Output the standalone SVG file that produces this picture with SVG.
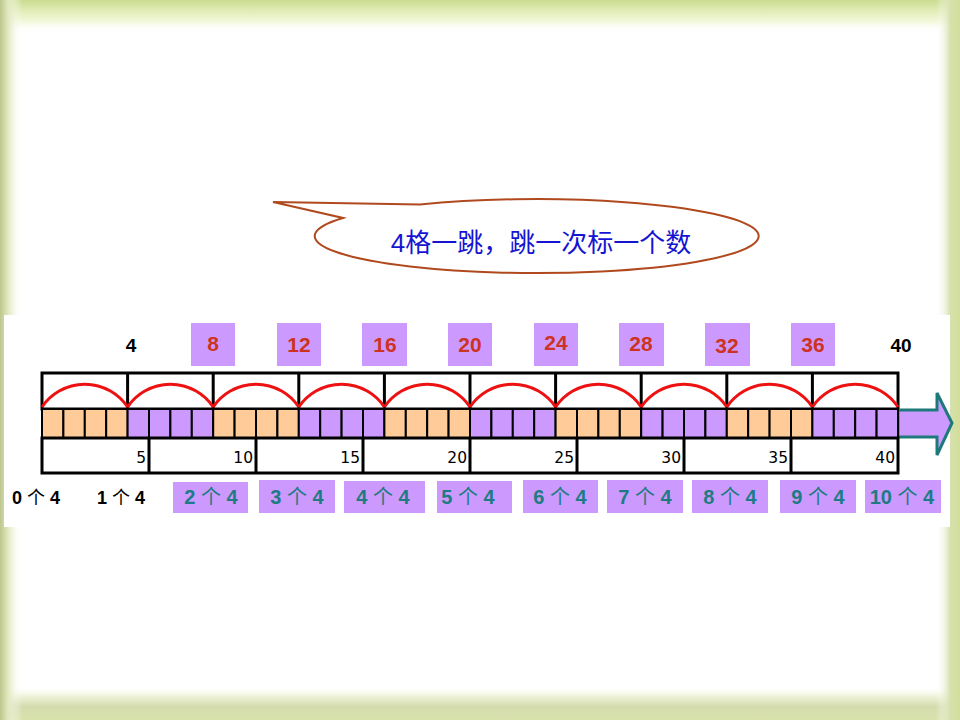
<svg xmlns="http://www.w3.org/2000/svg" width="960" height="720" viewBox="0 0 960 720">
<defs>
<linearGradient id="gTop" x1="0" y1="0" x2="0" y2="1"><stop offset="0" stop-color="#cbdc8e"/><stop offset="0.35" stop-color="#e2ecb8"/><stop offset="0.7" stop-color="#f4f9df"/><stop offset="1" stop-color="#ffffff" stop-opacity="0"/></linearGradient>
<linearGradient id="gBot" x1="0" y1="1" x2="0" y2="0"><stop offset="0" stop-color="#d8e2ac"/><stop offset="0.4" stop-color="#d4dcae"/><stop offset="0.7" stop-color="#eef3d8"/><stop offset="1" stop-color="#ffffff" stop-opacity="0"/></linearGradient>
<linearGradient id="gLeft" x1="0" y1="0" x2="1" y2="0"><stop offset="0" stop-color="#bcc68c"/><stop offset="0.35" stop-color="#dfe7bd"/><stop offset="1" stop-color="#ffffff" stop-opacity="0"/></linearGradient>
<linearGradient id="gRight" x1="1" y1="0" x2="0" y2="0"><stop offset="0" stop-color="#d2de9a"/><stop offset="0.4" stop-color="#d6e0ac"/><stop offset="1" stop-color="#ffffff" stop-opacity="0"/></linearGradient>
</defs>
<style>
.o{fill:#FFCC99;stroke:#000;stroke-width:2}
.p{fill:#CC99FF;stroke:#000;stroke-width:2}
.box{fill:#CC99FF}
.frame{fill:#fff;stroke:#000;stroke-width:3}
.div{stroke:#000;stroke-width:3}
.arc{fill:none;stroke:#EE1111;stroke-width:3}
.top{font-family:"Liberation Sans",Arial,sans-serif;font-weight:bold;font-size:21px;fill:#CC3322;text-anchor:middle}
.topk{font-family:"Liberation Sans",Arial,sans-serif;font-weight:bold;font-size:19px;fill:#000;text-anchor:middle}
.num{font-family:"DejaVu Sans","Liberation Sans",sans-serif;font-size:15.5px;fill:#000;text-anchor:end}
.lab{font-family:"Liberation Sans","Noto Sans CJK SC",sans-serif;font-weight:bold;font-size:20px;fill:#1E7B83;text-anchor:middle}
.labk{font-family:"Liberation Sans","Noto Sans CJK SC",sans-serif;font-weight:bold;font-size:18px;fill:#000;text-anchor:middle}
.cjk{font-weight:normal}
</style>
<rect width="960" height="720" fill="#ffffff"/>
<rect x="0" y="0" width="960" height="32" fill="url(#gTop)"/>
<rect x="0" y="686" width="960" height="34" fill="url(#gBot)"/>
<rect x="0" y="0" width="22" height="720" fill="url(#gLeft)"/>
<rect x="936" y="0" width="24" height="720" fill="url(#gRight)"/>
<rect x="4" y="315" width="946" height="212" fill="#ffffff"/>

<g id="callout">
<path d="M 420 204.6 A 222 37 0 1 1 343 218 L 273 202 Z" fill="#ffffff" stroke="#B04A1E" stroke-width="2"/>
<text x="541" y="252" font-family="Liberation Sans,'Noto Sans CJK SC',sans-serif" font-size="26" fill="#1414D2" text-anchor="middle">4格一跳，跳一次标一个数</text>
</g>

<g id="top-labels">
<text class="topk" x="131" y="352">4</text>
<rect class="box" x="191" y="323" width="44" height="43"/><text class="top" x="213" y="351">8</text>
<rect class="box" x="277" y="323" width="44" height="43"/><text class="top" x="299" y="352">12</text>
<rect class="box" x="362" y="323" width="45" height="43"/><text class="top" x="385" y="352">16</text>
<rect class="box" x="448" y="323" width="44" height="43"/><text class="top" x="470" y="352">20</text>
<rect class="box" x="534" y="323" width="44" height="43"/><text class="top" x="556" y="350">24</text>
<rect class="box" x="619" y="323" width="45" height="43"/><text class="top" x="641" y="351">28</text>
<rect class="box" x="705" y="323" width="45" height="43"/><text class="top" x="727" y="353">32</text>
<rect class="box" x="791" y="323" width="44" height="43"/><text class="top" x="813" y="352">36</text>
<text class="topk" x="901" y="352">40</text>
</g>

<g id="jump-row">
<rect class="frame" x="42" y="373" width="856" height="36"/>
<line class="div" x1="127.6" y1="373" x2="127.6" y2="409"/>
<line class="div" x1="213.2" y1="373" x2="213.2" y2="409"/>
<line class="div" x1="298.8" y1="373" x2="298.8" y2="409"/>
<line class="div" x1="384.4" y1="373" x2="384.4" y2="409"/>
<line class="div" x1="470" y1="373" x2="470" y2="409"/>
<line class="div" x1="555.6" y1="373" x2="555.6" y2="409"/>
<line class="div" x1="641.2" y1="373" x2="641.2" y2="409"/>
<line class="div" x1="726.8" y1="373" x2="726.8" y2="409"/>
<line class="div" x1="812.4" y1="373" x2="812.4" y2="409"/>
</g>

<g id="arcs">
<path class="arc" d="M42 407 A51.6 51.6 0 0 1 127.6 407"/>
<path class="arc" d="M127.6 407 A51.6 51.6 0 0 1 213.2 407"/>
<path class="arc" d="M213.2 407 A51.6 51.6 0 0 1 298.8 407"/>
<path class="arc" d="M298.8 407 A51.6 51.6 0 0 1 384.4 407"/>
<path class="arc" d="M384.4 407 A51.6 51.6 0 0 1 470 407"/>
<path class="arc" d="M470 407 A51.6 51.6 0 0 1 555.6 407"/>
<path class="arc" d="M555.6 407 A51.6 51.6 0 0 1 641.2 407"/>
<path class="arc" d="M641.2 407 A51.6 51.6 0 0 1 726.8 407"/>
<path class="arc" d="M726.8 407 A51.6 51.6 0 0 1 812.4 407"/>
<path class="arc" d="M812.4 407 A51.6 51.6 0 0 1 898 407"/>
</g>

<g id="arrow">
<polygon points="898,410 937,410 937,393 952,423 937,455 937,437 898,437" fill="#CC99FF" stroke="#1E7A7A" stroke-width="3" stroke-linejoin="miter"/>
</g>

<g id="cells">
<rect class="o" x="42" y="409" width="21.4" height="29"/><rect class="o" x="63.4" y="409" width="21.4" height="29"/><rect class="o" x="84.8" y="409" width="21.4" height="29"/><rect class="o" x="106.2" y="409" width="21.4" height="29"/>
<rect class="p" x="127.6" y="409" width="21.4" height="29"/><rect class="p" x="149" y="409" width="21.4" height="29"/><rect class="p" x="170.4" y="409" width="21.4" height="29"/><rect class="p" x="191.8" y="409" width="21.4" height="29"/>
<rect class="o" x="213.2" y="409" width="21.4" height="29"/><rect class="o" x="234.6" y="409" width="21.4" height="29"/><rect class="o" x="256" y="409" width="21.4" height="29"/><rect class="o" x="277.4" y="409" width="21.4" height="29"/>
<rect class="p" x="298.8" y="409" width="21.4" height="29"/><rect class="p" x="320.2" y="409" width="21.4" height="29"/><rect class="p" x="341.6" y="409" width="21.4" height="29"/><rect class="p" x="363" y="409" width="21.4" height="29"/>
<rect class="o" x="384.4" y="409" width="21.4" height="29"/><rect class="o" x="405.8" y="409" width="21.4" height="29"/><rect class="o" x="427.2" y="409" width="21.4" height="29"/><rect class="o" x="448.6" y="409" width="21.4" height="29"/>
<rect class="p" x="470" y="409" width="21.4" height="29"/><rect class="p" x="491.4" y="409" width="21.4" height="29"/><rect class="p" x="512.8" y="409" width="21.4" height="29"/><rect class="p" x="534.2" y="409" width="21.4" height="29"/>
<rect class="o" x="555.6" y="409" width="21.4" height="29"/><rect class="o" x="577" y="409" width="21.4" height="29"/><rect class="o" x="598.4" y="409" width="21.4" height="29"/><rect class="o" x="619.8" y="409" width="21.4" height="29"/>
<rect class="p" x="641.2" y="409" width="21.4" height="29"/><rect class="p" x="662.6" y="409" width="21.4" height="29"/><rect class="p" x="684" y="409" width="21.4" height="29"/><rect class="p" x="705.4" y="409" width="21.4" height="29"/>
<rect class="o" x="726.8" y="409" width="21.4" height="29"/><rect class="o" x="748.2" y="409" width="21.4" height="29"/><rect class="o" x="769.6" y="409" width="21.4" height="29"/><rect class="o" x="791" y="409" width="21.4" height="29"/>
<rect class="p" x="812.4" y="409" width="21.4" height="29"/><rect class="p" x="833.8" y="409" width="21.4" height="29"/><rect class="p" x="855.2" y="409" width="21.4" height="29"/><rect class="p" x="876.6" y="409" width="21.4" height="29"/>
</g>

<g id="ruler">
<rect class="frame" x="42" y="438" width="856" height="35"/>
<line class="div" x1="149" y1="438" x2="149" y2="473"/>
<line class="div" x1="256" y1="438" x2="256" y2="473"/>
<line class="div" x1="363" y1="438" x2="363" y2="473"/>
<line class="div" x1="470" y1="438" x2="470" y2="473"/>
<line class="div" x1="577" y1="438" x2="577" y2="473"/>
<line class="div" x1="684" y1="438" x2="684" y2="473"/>
<line class="div" x1="791" y1="438" x2="791" y2="473"/>
<text class="num" x="146" y="463">5</text>
<text class="num" x="253" y="463">10</text>
<text class="num" x="360" y="463">15</text>
<text class="num" x="467" y="463">20</text>
<text class="num" x="574" y="463">25</text>
<text class="num" x="681" y="463">30</text>
<text class="num" x="788" y="463">35</text>
<text class="num" x="895" y="463">40</text>
</g>

<g id="count-labels">
<text class="labk" x="36" y="504">0 <tspan class="cjk">个</tspan> 4</text>
<text class="labk" x="121" y="504">1 <tspan class="cjk">个</tspan> 4</text>
<rect class="box" x="173" y="482" width="75" height="31"/><text class="lab" x="211" y="504">2 <tspan class="cjk">个</tspan> 4</text>
<rect class="box" x="259" y="480" width="76" height="33"/><text class="lab" x="297" y="504">3 <tspan class="cjk">个</tspan> 4</text>
<rect class="box" x="344" y="481" width="81" height="32"/><text class="lab" x="383" y="504">4 <tspan class="cjk">个</tspan> 4</text>
<rect class="box" x="437" y="481" width="75" height="32"/><text class="lab" x="468" y="504">5 <tspan class="cjk">个</tspan> 4</text>
<rect class="box" x="523" y="480" width="75" height="33"/><text class="lab" x="560" y="504">6 <tspan class="cjk">个</tspan> 4</text>
<rect class="box" x="607" y="480" width="76" height="33"/><text class="lab" x="645" y="504">7 <tspan class="cjk">个</tspan> 4</text>
<rect class="box" x="692" y="480" width="76" height="33"/><text class="lab" x="730" y="504">8 <tspan class="cjk">个</tspan> 4</text>
<rect class="box" x="780" y="480" width="76" height="33"/><text class="lab" x="818" y="504">9 <tspan class="cjk">个</tspan> 4</text>
<rect class="box" x="865" y="480" width="76" height="33"/><text class="lab" x="902" y="504">10 <tspan class="cjk">个</tspan> 4</text>
</g>
</svg>
